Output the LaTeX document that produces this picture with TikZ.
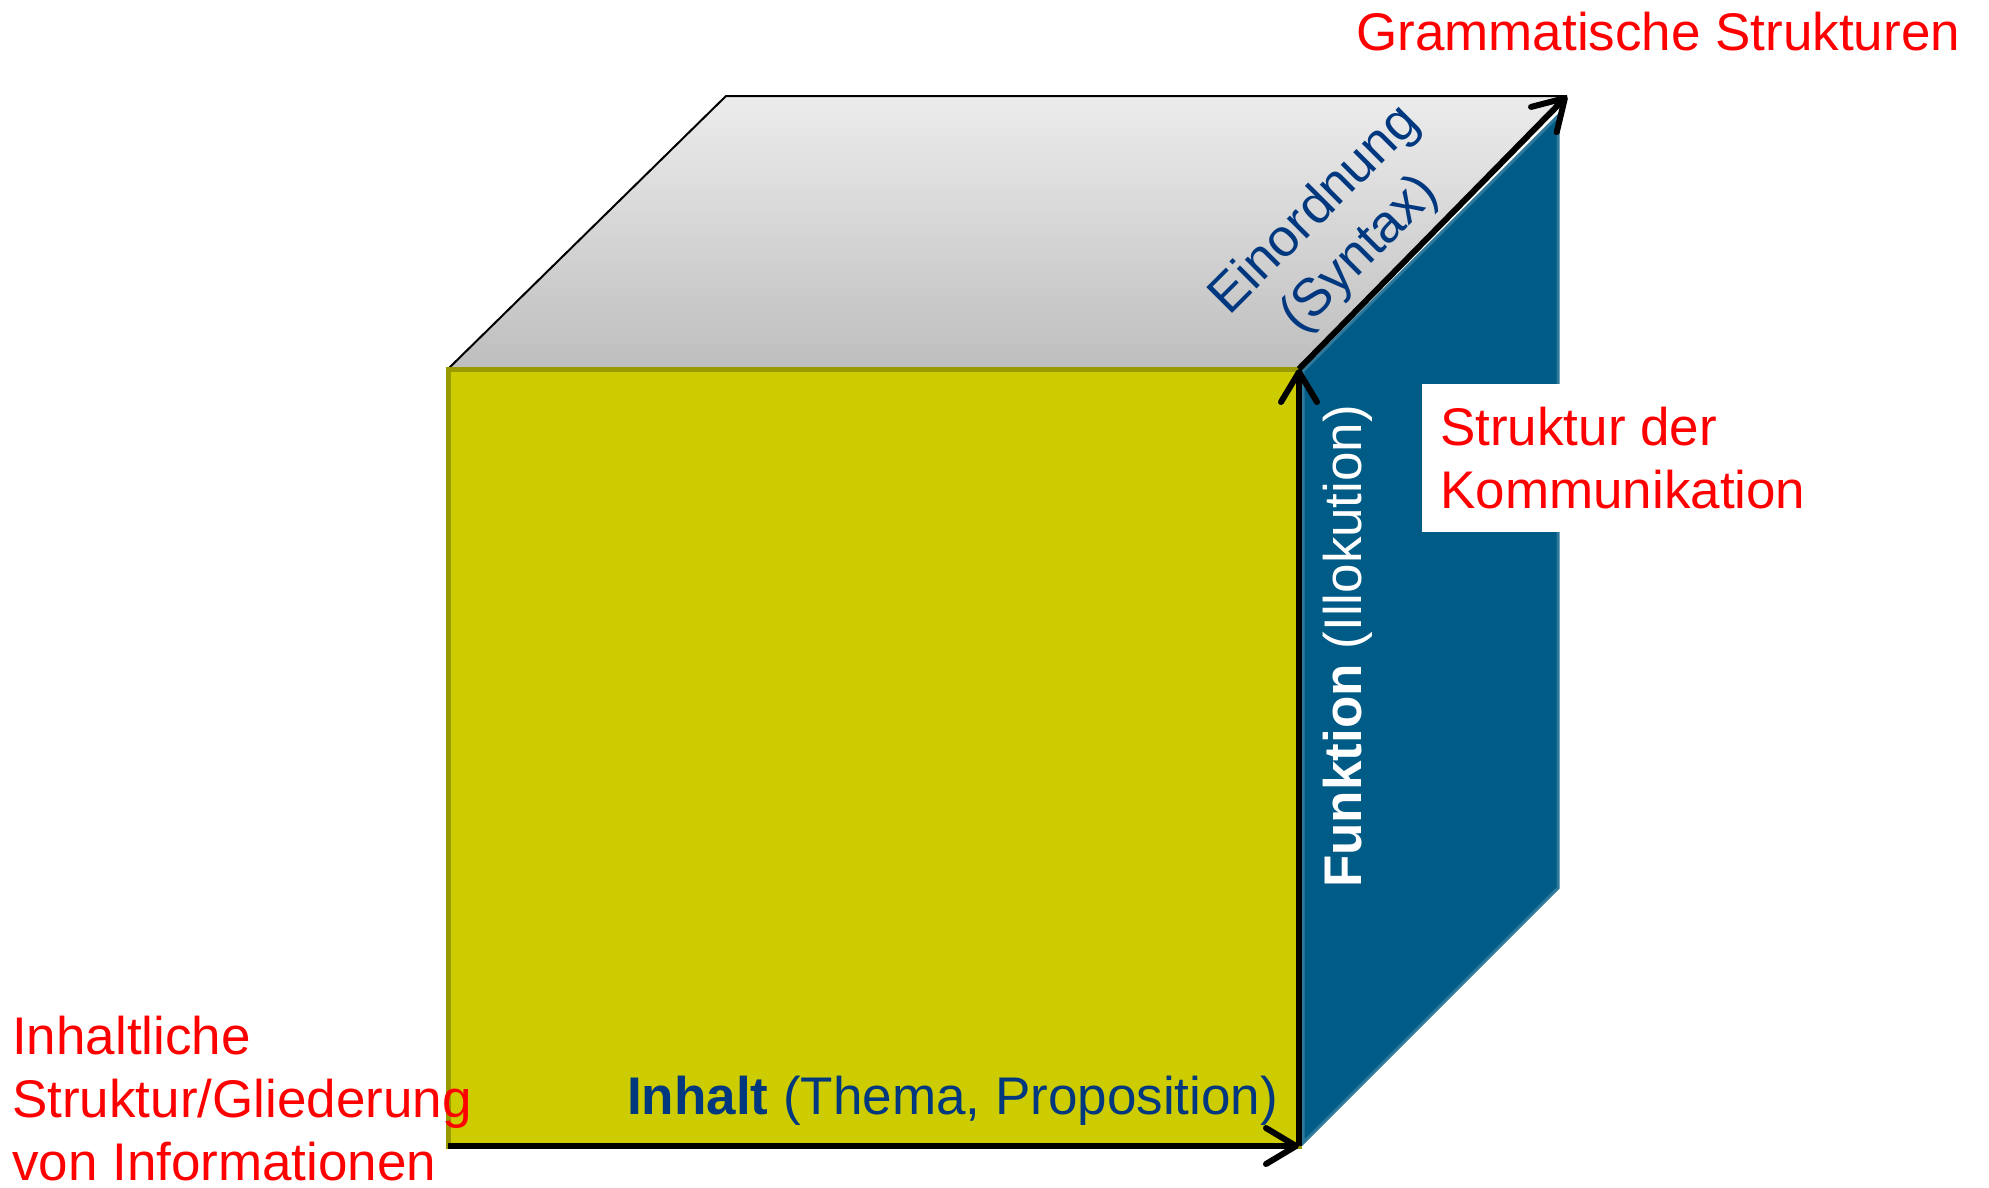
\documentclass[tikz,border=0pt]{standalone}
\usepackage{fontspec}
\setmainfont{Liberation Sans}
\usetikzlibrary{calc, arrows.meta}
\definecolor{cubeyellow}{RGB}{204,204,0}
\definecolor{cubeolive}{RGB}{153,153,0}
\definecolor{cubeblue}{RGB}{0,91,135}
\definecolor{cubeedge}{RGB}{46,120,155}
\definecolor{labelblue}{RGB}{0,56,128}
\definecolor{topgray}{RGB}{236,236,236}
\definecolor{botgray}{RGB}{190,190,190}
\definecolor{labelred}{RGB}{255,0,0}

\begin{document}
\begin{tikzpicture}[x=1pt, y=1pt,
    axis/.style={line width=6pt, -{Straight Barb[length=30pt, width=36pt, round]}},
    big/.style={font=\fontsize{53}{63}\selectfont, inner sep=0pt},
    redlabel/.style={big, text=labelred},
    bluelabel/.style={big, text=labelblue}]
    \useasboundingbox (0,0) rectangle (1989,-1187);
    \coordinate (flb) at (448,-1146);
    \coordinate (frb) at (1299,-1146);
    \coordinate (frt) at (1299,-369);
    \coordinate (flt) at (448,-369);
    \coordinate (blt) at (726,-96);
    \coordinate (brt) at (1567,-96);
    \shade[top color=topgray, bottom color=botgray] (flt) -- (blt) -- (brt) -- (frt) -- cycle;
    \draw[line width=2pt] (flt) -- (blt) -- (brt);
    \draw[fill=cubeyellow, draw=cubeolive, line width=5pt] (flb) rectangle (frt);
    \draw[fill=cubeblue, draw=cubeedge, line width=3pt] (1303,-371) -- (1558,-116) -- (1558,-888) -- (1303,-1143) -- cycle;
    \node[redlabel, anchor=base west] (gram) at (1356,-50) {Grammatische Strukturen};
    \node[redlabel, fill=white, inner xsep=18pt, inner ysep=23pt, align=left, anchor=north west] (komm) at (1422,-384) {Struktur der\\Kommunikation};
    \node[redlabel, align=left, anchor=base west] (info) at (12,-1180) {Inhaltliche\\Struktur/Gliederung\\von Informationen};
    \node[bluelabel, anchor=base west] (inhalt) at (627,-1114) {\textbf{Inhalt} (Thema, Proposition)};
    \node[big, text=white, rotate=90, anchor=base west] (funk) at (1361,-888) {\textbf{Funktion} (Illokution)};
    \node[bluelabel, rotate=45, align=center] (einord) at (1338,-233) {Einordnung\\(Syntax)};
    \draw[axis] (flb) -- (frb);
    \draw[axis] (frb) -- (frt);
    \draw[axis] (frt) -- (brt);
\end{tikzpicture}
\end{document}
